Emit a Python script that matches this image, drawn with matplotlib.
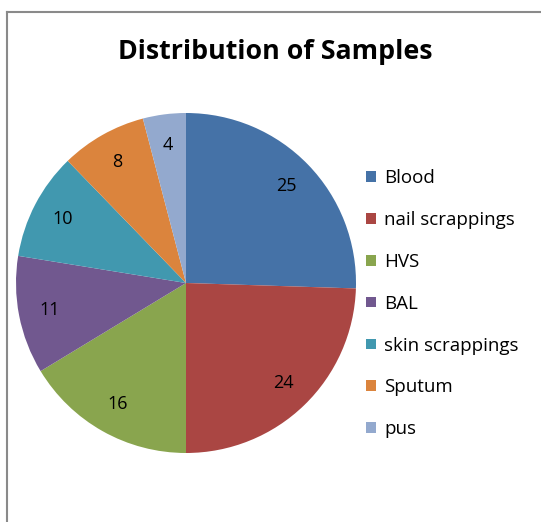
import matplotlib.pyplot as plt
from matplotlib.lines import Line2D

# data
samples = ["Blood", "nail scrappings", "HVS", "BAL", "skin scrappings", "Sputum", "pus"]
counts = [25, 24, 16, 11, 10, 8, 4]
colors = ["#4572A7", "#AA4643", "#89A54E", "#71588F", "#4198AF", "#DB843D", "#93A9CE"]

W, H = 541, 522
fig = plt.figure(figsize=(W / 100, H / 100), dpi=100)
plt.rcParams["font.family"] = ["Open Sans", "DejaVu Sans"]

# chart border (only top and left visible in the crop)
fig.add_artist(Line2D([6.5 / W, 6.5 / W], [0, 1 - 11.5 / H], color="#8a8a8a", lw=1.5))
fig.add_artist(Line2D([6.5 / W, 1], [1 - 11.5 / H, 1 - 11.5 / H], color="#8a8a8a", lw=1.5))

# pie: center (186, 283), radius 170 px
cx, cy, r = 186, 283, 170
ax = fig.add_axes([(cx - r) / W, 1 - (cy + r) / H, 2 * r / W, 2 * r / H])
wedges, texts = ax.pie(counts, colors=colors, startangle=90, counterclock=False,
                       labels=[str(c) for c in counts], labeldistance=0.82,
                       textprops={"fontsize": 13, "color": "black"},
                       wedgeprops={"linewidth": 0})
for t in texts:
    t.set_horizontalalignment("center")
    t.set_verticalalignment("center")
ax.set_xlim(-1, 1)
ax.set_ylim(-1, 1)
ax.set_aspect("equal")

fig.text(275 / W, 1 - 52 / H, "Distribution of Samples", ha="center", va="center",
         fontsize=19.3, fontweight="bold")

leg = fig.legend(wedges, samples, loc="upper left",
                 bbox_to_anchor=(357 / W, 1 - 160 / H), frameon=False,
                 fontsize=13.5, handlelength=0.5, handleheight=0.5,
                 handletextpad=0.45, labelspacing=1.27, borderpad=0)

fig.savefig("out.png", dpi=100)
